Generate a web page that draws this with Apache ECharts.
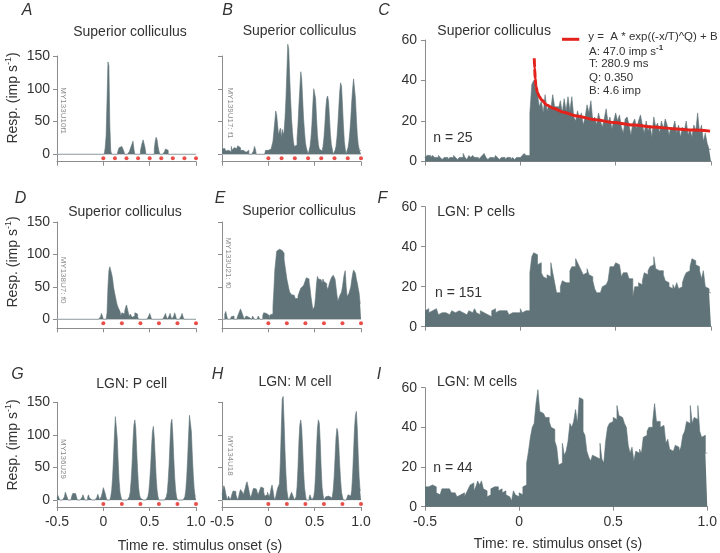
<!DOCTYPE html>
<html><head><meta charset="utf-8">
<script src="https://cdn.jsdelivr.net/npm/echarts@6/dist/echarts.min.js"></script>
<style>html,body{margin:0;padding:0;background:#fff}#c{width:720px;height:553px}</style>
</head><body><div id="c"></div>
<script>
// ---------------- DATA (10 ms bins from -0.5 s to 1.0 s) ----------------
const xTicks = [-0.5, 0, 0.5, 1.0];
const yTicksSmall = [0, 50, 100, 150];
const yTicksLarge = [0, 20, 40, 60];

const histA = [
0,0,0,0,0,0,0,0,0,0, 0,0,0,0,0,0,0,0,0,0, 0,0,0,0,0,0,0,0,0,0, 0,0,0,0,0,0,0,0,0,0, 0,0,0,0,0,0,0,0,0,0,
0,0,10,28,83,141,135,45,5,0, 0,0,0,0,0,0,6,10,12,12, 12,10,5,0,0,0,0,0,4,8, 12,15,20,8,0,0,0,0,0,0,
5,12,18,22,20,10,0,0,0,0, 0,0,0,0,0,8,20,26,22,12, 5,0,0,0,0,0,4,8,10,6,
0,0,0,0,0,0,0,0,0,0, 0,0,0,0,0,0,0,0,0,0, 0,0,0,0,0,0,0,0,0,0];
const histB = [
8,6,9,7,5,8,6,9,7,4, 12,6,8,10,7,9,11,13,16,10, 6,5,6,4,5,3,0,4,6,0, 0,0,0,0,5,12,8,0,0,0,
0,0,0,0,0,0,0,6,7,6, 8,5,8,10,14,20,35,50,66,60, 45,30,35,40,25,38,30,35,55,85,
125,168,160,120,85,55,35,20,12,10, 14,25,45,75,100,126,115,85,55,35, 18,10,8,0,6,12,25,45,75,100,
102,85,55,30,15,8,6,5,8,12, 25,45,70,85,89,80,55,30,15,8, 0,0,6,12,25,45,70,95,109,104,
75,45,20,8,0,6,10,20,35,55, 80,100,115,112,85,55,30,15,8,5];
const histC = [
2,3,3,2,3,2,2,3,2,1, 2,2,1,2,2,3,2,1,2,2, 4,2,1,3,2,3,2,2,1,2, 3,4,2,1,2,2,1,3,2,1, 2,2,1,2,2,1,2,1,2,2,
2,3,4,3,3,24,38,40,36,33, 27,30,24,33,25,28,26,33,27,27, 26,30,24,31,25,32,25,32,22,20,
25,21,24,18,22,28,24,30,20,22, 18,24,20,17,21,26,19,22,16,20, 24,20,23,17,14,21,22,18,13,19,
21,16,20,23,18,14,20,15,18,12, 22,17,19,14,20,16,21,18,13,17, 16,20,14,18,12,17,15,20,13,16,
12,18,15,24,14,18,10,14,9,6];
const histD = [
0,0,0,0,0,0,0,0,0,0, 0,0,0,0,0,0,0,0,0,0, 0,0,0,0,0,0,0,0,0,0, 0,0,0,0,0,0,0,0,0,0,
0,0,0,0,0,0,0,4,9,5, 0,0,0,0,10,50,75,81,78,70, 62,50,42,35,28,22,18,15,12,5,
10,12,8,12,18,22,16,10,4,8, 9,3,0,5,10,12,8,4,0,0, 0,0,0,0,0,0,0,0,0,5,
9,5,0,0,0,0,0,0,0,0, 0,0,0,0,0,0,5,9,4,0, 0,5,9,4,0,0,5,10,5,0,
0,0,0,0,5,9,4,0,0,0, 0,0,0,0,0,0,0,0,0,0];
const histE = [
0,0,0,8,12,6,0,0,0,0, 4,7,5,0,0,0,0,5,9,12, 16,12,8,5,0,0,5,7,3,0, 0,0,0,5,7,0,0,0,0,5,
8,0,0,0,6,10,8,9,11,9, 6,0,7,5,8,20,45,76,90,105, 107,108,110,105,106,103,102,92,82,72,
62,55,48,42,40,38,38,37,35,32, 30,32,36,40,44,48,51,52,54,56, 60,64,66,62,58,48,35,25,15,12,
20,35,55,66,62,59,61,58,56,62, 58,61,55,51,46,50,56,60,64,66, 68,69,62,50,38,28,30,36,38,42,
50,61,70,75,50,35,38,40,40,50, 61,70,76,73,71,62,56,48,40,25];
const histF = [
8,9,7,8,7,9,8,6,7,8, 7,8,6,7,8,7,6,8,7,7, 8,6,7,8,7,8,9,7,6,8, 7,8,6,7,5,8,9,7,8,9, 8,7,8,7,6,7,8,7,6,7,
9,7,8,9,8,27,35,37,36,31, 32,27,25,24,26,25,32,27,22,17, 17,20,23,22,21,22,28,30,30,34,
32,30,28,26,27,29,26,25,23,19, 17,17,18,20,21,22,23,30,30,30, 32,31,30,25,27,27,26,24,24,15,
20,20,22,21,23,27,26,28,30,31, 35,29,28,27,28,26,23,22,20,19, 21,19,22,19,20,22,25,27,28,30,
34,33,31,30,28,24,28,20,19,17];
const histG = [
3,7,4,0,0,0,0,0,5,12, 8,4,0,0,0,0,6,10,11,10, 9,5,0,0,0,0,0,4,8,4, 0,0,0,4,8,3,0,0,0,0,
0,0,0,4,9,5,0,0,6,12, 19,16,10,4,0,0,0,0,5,15, 35,65,100,128,125,95,60,30,12,5,
0,0,0,0,0,0,0,0,5,12, 30,55,90,115,123,110,75,45,20,8, 3,0,0,0,0,0,0,0,5,12,
28,50,80,105,113,95,65,35,15,5, 0,0,0,0,0,0,0,0,5,12, 30,55,90,118,124,100,65,35,15,5,
0,0,0,0,0,0,0,0,5,15, 35,65,100,130,133,105,70,40,18,6];
const histH = [
8,15,22,18,10,4,0,6,3,0, 5,10,14,12,13,8,4,0,5,12, 16,17,12,8,10,18,24,28,22,15, 8,4,8,14,18,19,17,15,12,8,
10,16,20,22,18,12,6,4,8,12, 10,5,10,18,23,15,5,0,5,12, 18,15,25,60,110,155,159,120,75,40,
15,5,0,4,8,12,10,5,0,0, 5,20,50,90,115,123,110,80,45,20, 8,0,0,0,4,8,4,0,0,5,
15,40,80,110,123,118,90,50,20,8, 0,0,5,8,6,9,7,4,0,5, 15,35,65,95,110,105,85,55,30,12,
5,0,0,0,0,4,8,10,6,5, 15,40,75,110,130,136,110,70,35,15];
const histI = [
10,10,10,11,12,10,7,6,6,9, 9,10,9,9,7,7,6,5,6,6, 7,5,7,9,11,12,8,10,13,11, 13,9,8,5,6,9,10,9,10,8,
9,7,8,6,5,4,3,8,6,5, 7,6,10,11,22,28,35,40,42,52, 59,48,47,46,45,45,43,40,39,33,
30,21,22,32,26,28,33,42,40,43, 49,42,55,54,38,36,28,25,23,26, 25,26,24,32,24,22,33,40,42,43,
45,44,51,46,45,44,42,40,31,27, 30,23,28,27,29,27,35,36,38,40, 40,43,52,43,43,40,41,42,32,34,
29,28,27,31,30,28,30,36,38,43, 42,51,42,45,44,51,38,35,36,27];

// stimulus onset times (red dots)
const stimA = [0, 0.125, 0.25, 0.375, 0.5, 0.625, 0.75, 0.875, 1.0];
const stimB = [0, 0.143, 0.286, 0.429, 0.571, 0.714, 0.857, 1.0];
const stim5Hz = [0, 0.2, 0.4, 0.6, 0.8, 1.0];

// fitted curve in C
const fitT = [0.073,0.075,0.078,0.082,0.09,0.1,0.112,0.138,0.173,0.226,0.295,0.383,0.488,0.593,0.698,0.802,0.907,0.995];
const fitY = [51,46,41,37,34,32,30.4,27.9,26.3,24.3,22.5,20.8,19.3,18,17,16.2,15.5,15];

// ---------------- CHART ----------------
const FONT = '"Liberation Sans", Arial, Helvetica, sans-serif';
const BAR = '#5f7378', AX = '#8c8c8c', TXT = '#333', RED = '#e3221c';
const binEdges = [];
for (let i = 0; i <= 150; i++) binEdges.push(+(-0.5 + i * 0.01).toFixed(3));
// histogram outline: each bin value held from its left edge to its right edge
const steps = vals => binEdges.map((e, i) => [e, vals[Math.min(i, vals.length - 1)]]);
const fmtX = v => (v === 0 ? '0' : v.toFixed(1));

const small = [
  {vals: histA, stim: stimA, left: 57, top: 56, height: 105.7, ymin: -11.3, yl: true, xl: false},
  {vals: histB, stim: stimB, left: 222, top: 56, height: 105.7, ymin: -11.3, yl: false, xl: false},
  {vals: histD, stim: stim5Hz, left: 57, top: 222, height: 106.3, ymin: -13.9, yl: true, xl: false},
  {vals: histE, stim: stim5Hz, left: 222, top: 222, height: 106.3, ymin: -13.9, yl: false, xl: false},
  {vals: histG, stim: stim5Hz, left: 57, top: 402.3, height: 104.7, ymin: -10.7, yl: true, xl: true},
  {vals: histH, stim: stim5Hz, left: 222, top: 402.3, height: 104.7, ymin: -10.7, yl: false, xl: true}
];
const large = [
  {vals: histC, top: 40, height: 121.5, xl: false, fit: true},
  {vals: histF, top: 206.7, height: 120, xl: false},
  {vals: histI, top: 387.7, height: 119, xl: true}
];

const grid = [], xAxis = [], yAxis = [], series = [];
const axLine = {show: true, onZero: false, lineStyle: {color: AX, width: 1}};
const lblStyle = {fontSize: 14, color: TXT, fontFamily: FONT};

function histSeries(k, vals) {
  return {type: 'line', xAxisIndex: k, yAxisIndex: k, z: 2, silent: true, step: 'end', clip: false,
    symbol: 'none', data: steps(vals),
    lineStyle: {color: BAR, width: 0.6}, areaStyle: {color: BAR, opacity: 1, origin: 0}};
}
function addX(k, showLbl) {
  xAxis.push({type: 'value', gridIndex: k, min: -0.5, max: 1.0, interval: 0.5,
    axisLine: axLine, axisTick: {show: true, length: 4, lineStyle: {color: AX}},
    axisLabel: Object.assign({show: showLbl, margin: 8, formatter: fmtX}, lblStyle),
    splitLine: {show: false}});
}

small.forEach(p => {
  const k = grid.length;
  grid.push({left: p.left, top: p.top, width: 139, height: p.height});
  addX(k, p.xl);
  yAxis.push({type: 'value', gridIndex: k, min: p.ymin, max: 150,
    axisLine: axLine,
    axisTick: {show: true, length: 4, customValues: yTicksSmall, lineStyle: {color: AX}},
    axisLabel: Object.assign({show: p.yl, margin: 7, customValues: yTicksSmall}, lblStyle),
    splitLine: {show: false}});
  series.push({type: 'line', xAxisIndex: k, yAxisIndex: k, z: 1, silent: true, symbol: 'none',
    data: [[xTicks[0], 0], [xTicks[3], 0]], lineStyle: {color: '#dedede', width: 1}});
  series.push(histSeries(k, p.vals));
  series.push({type: 'scatter', xAxisIndex: k, yAxisIndex: k, z: 3, silent: true, symbolSize: 4,
    data: p.stim.map(t => [t, -6]), itemStyle: {color: RED}});
});

large.forEach(p => {
  const k = grid.length;
  grid.push({left: 425, top: p.top, width: 286, height: p.height});
  addX(k, p.xl);
  yAxis.push({type: 'value', gridIndex: k, min: 0, max: 60, interval: 20,
    axisLine: axLine, axisTick: {show: true, length: 4, lineStyle: {color: AX}},
    axisLabel: Object.assign({show: true, margin: 8}, lblStyle),
    splitLine: {show: false}});
  series.push(histSeries(k, p.vals));
  if (p.fit) {
    series.push({type: 'line', xAxisIndex: k, yAxisIndex: k, z: 5, silent: true, symbol: 'none',
      smooth: 0.3, smoothMonotone: 'x',
      data: fitT.map((t, i) => [t, fitY[i]]), lineStyle: {color: RED, width: 3}});
  }
});

function txt(x, y, text, o) {
  o = o || {};
  return {type: 'text', x: x, y: y, rotation: o.rot || 0, silent: true,
    style: Object.assign({text: text, fontFamily: FONT, fontSize: o.size || 14, fill: o.fill || TXT,
      fontStyle: o.style || 'normal', align: o.align || 'center', verticalAlign: 'middle'}, o.extra || {})};
}
const supRich = {
  a: {fontSize: 14, fontFamily: FONT, fill: TXT, lineHeight: 16, verticalAlign: 'bottom'},
  s: {fontSize: 9, fontFamily: FONT, fill: TXT, lineHeight: 10, verticalAlign: 'top'}
};
const yName = '{a|Resp. (imp s}{s|-1}{a|)}';
const legRich = {
  a: {fontSize: 11.5, fontFamily: FONT, fill: TXT, lineHeight: 14, verticalAlign: 'bottom'},
  s: {fontSize: 8, fontFamily: FONT, fill: TXT, fontWeight: 'bold', lineHeight: 9, verticalAlign: 'top'}
};

const graphic = [
  // panel letters
  txt(27, 10.5, 'A', {style: 'italic', size: 16}), txt(227.5, 10.5, 'B', {style: 'italic', size: 16}),
  txt(384, 10.5, 'C', {style: 'italic', size: 16}), txt(20.5, 198.3, 'D', {style: 'italic', size: 16}),
  txt(220, 198.3, 'E', {style: 'italic', size: 16}), txt(382.5, 198.3, 'F', {style: 'italic', size: 16}),
  txt(17.5, 375, 'G', {style: 'italic', size: 16}), txt(217.5, 375, 'H', {style: 'italic', size: 16}),
  txt(379, 375, 'I', {style: 'italic', size: 16}),
  // titles
  txt(130, 31.7, 'Superior colliculus'), txt(299.5, 30.7, 'Superior colliculus'),
  txt(437.3, 31, 'Superior colliculus', {align: 'left'}),
  txt(125, 212.3, 'Superior colliculus'), txt(299, 210.7, 'Superior colliculus'),
  txt(437.3, 211.7, 'LGN: P cells', {align: 'left'}),
  txt(131.7, 384.3, 'LGN: P cell'), txt(295, 382.3, 'LGN: M cell'),
  txt(437, 382.3, 'LGN: M cells', {align: 'left'}),
  // unit labels
  txt(63.3, 110.7, 'MY133U10f1', {size: 8, fill: '#8a8a8a', rot: -Math.PI / 2}),
  txt(230.7, 113, 'MY139U17: f1', {size: 8, fill: '#8a8a8a', rot: -Math.PI / 2}),
  txt(63.3, 280, 'MY138U7: f0', {size: 8, fill: '#8a8a8a', rot: -Math.PI / 2}),
  txt(228.3, 263, 'MY133U21: f0', {size: 8, fill: '#8a8a8a', rot: -Math.PI / 2}),
  txt(63, 459, 'MY136U29', {size: 8, fill: '#8a8a8a', rot: -Math.PI / 2}),
  txt(230, 455.7, 'MY134U18', {size: 8, fill: '#8a8a8a', rot: -Math.PI / 2}),
  // y axis names
  txt(11.7, 98, yName, {rot: Math.PI / 2, extra: {rich: supRich}}),
  txt(11.7, 262, yName, {rot: Math.PI / 2, extra: {rich: supRich}}),
  txt(11.7, 445, yName, {rot: Math.PI / 2, extra: {rich: supRich}}),
  // n labels
  txt(433.3, 138.3, 'n = 25', {align: 'left'}),
  txt(435, 293.3, 'n = 151', {align: 'left'}),
  txt(433.3, 468.3, 'n = 44', {align: 'left'}),
  // x axis titles
  txt(200, 546, 'Time re. stimulus onset (s)'),
  txt(558, 544, 'Time: re. stimulus onset (s)'),
  // fit legend
  {type: 'line', silent: true, shape: {x1: 562, y1: 39.3, x2: 579.3, y2: 39.3}, style: {stroke: RED, lineWidth: 3}},
  txt(588.3, 37, 'y =  A * exp((-x/T)^Q) + B', {size: 11.5, align: 'left'}),
  txt(589, 51, '{a|A: 47.0 imp s}{s|-1}', {size: 11.5, align: 'left', extra: {rich: legRich}}),
  txt(589, 64, 'T: 280.9 ms', {size: 11.5, align: 'left'}),
  txt(589, 77.5, 'Q: 0.350', {size: 11.5, align: 'left'}),
  txt(589, 90.5, 'B: 4.6 imp', {size: 11.5, align: 'left'})
];

const chart = echarts.init(document.getElementById('c'), null, {renderer: 'canvas'});
chart.setOption({animation: false, backgroundColor: '#fff', grid, xAxis, yAxis, series, graphic});
</script></body></html>
